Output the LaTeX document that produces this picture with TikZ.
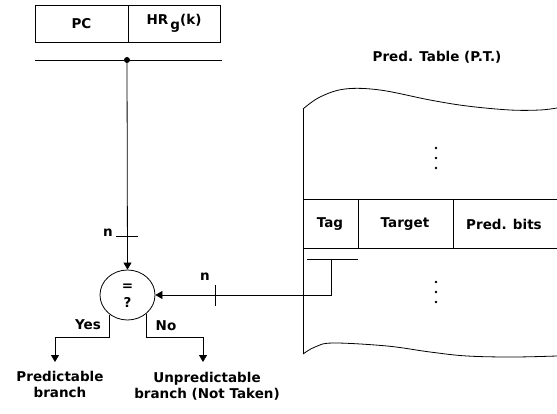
\documentclass[tikz,border=0pt]{standalone}
\usepackage{fontspec}
\setmainfont{DejaVu Sans}
\usetikzlibrary{arrows.meta,shapes.geometric}
\tikzset{
  lbl/.style={inner sep=0pt,font=\fontsize{13.5}{15}\selectfont\bfseries},
  cellbox/.style={draw,line width=0.8pt,minimum height=37pt,inner sep=0pt,font=\fontsize{13.5}{15}\selectfont\bfseries},
  wire/.style={line width=0.8pt},
  arr/.style={wire,-{Triangle[width=8pt,length=7pt]}},
  dotmark/.style={fill,circle,inner sep=0pt,minimum size=2.6pt},
}
\begin{document}
\begin{tikzpicture}[x=1pt,y=-1pt]
\useasboundingbox (0,0) rectangle (557,414);
% register
\node[cellbox,minimum width=93pt] (pc) at (81.5,23.5) {PC};
\node[cellbox,minimum width=92pt] (hr) at (174,23.5) {HR\,\raisebox{-5pt}{g}(k)};
\coordinate (busL) at (35,60);
\coordinate (busR) at (222,60);
\draw[wire] (busL) -- (busR);
\node[fill,circle,inner sep=0pt,minimum size=6pt] (dot) at (127,60) {};
% comparator
\node[draw,ellipse,line width=0.8pt,minimum width=55pt,minimum height=50pt,inner sep=0pt] (cmp) at (127.5,295) {};
\node[lbl] (eq) at (127.5,287) {=};
\node[lbl] (q) at (127.5,302) {?};
\draw[arr] (dot) -- (cmp.north);
\draw[wire] (116,236) -- (138,236);
\node[lbl] (n1) at (108,233) {n};
% table
\node[lbl] (title) at (437,57) {Pred. Table (P.T.)};
\draw[wire] plot[smooth,tension=0.6] coordinates {(303,109)(320,97)(345,89)(380,90)(430,100)(467,106)(510,110)(540,110)(557,108)};
\draw[wire] plot[smooth,tension=0.6] coordinates {(303,354)(315,347)(333,343)(387,346)(430,352)(467,356)(513,357)(557,356)};
\draw[wire] (303,109) -- (303,354);
\draw[wire] (303,199) -- (557,199);
\draw[wire] (303,248) -- (557,248);
\draw[wire] (358,199) -- (358,248);
\draw[wire] (453,199) -- (453,248);
\node[lbl] (tag) at (330,224) {Tag};
\node[lbl] (target) at (405,224) {Target};
\node[lbl] (pbits) at (504,224) {Pred. bits};
\foreach \yy in {148,158,168,282,292,302}
  \node[dotmark] at (436,\yy) {};
% tag tap
\coordinate (tapL) at (307,259);
\coordinate (tapR) at (358,259);
\coordinate (tapC) at (331,259);
\coordinate (bend) at (331,295);
\draw[wire] (tapL) -- (tapR);
\draw[arr] (tapC) -- (bend) -- (cmp.east);
\draw[wire] (215,285) -- (215,306);
\node[lbl] (n2) at (205,277) {n};
% outputs
\coordinate (ycorner) at (55,337);
\coordinate (yend) at (55,362);
\coordinate (ncorner) at (203,337);
\coordinate (nend) at (203,362);
\draw[arr] (cmp.228) |- (ycorner) -- (yend);
\draw[arr] (cmp.-45) |- (ncorner) -- (nend);
\node[lbl] (yes) at (88,325) {Yes};
\node[lbl] (no) at (166,326) {No};
\node[lbl,align=center] (pred) at (60,384) {Predictable\\[1pt]branch};
\node[lbl,align=center] (unpred) at (207,386) {Unpredictable\\[1pt]branch (Not Taken)};
\end{tikzpicture}
\end{document}
